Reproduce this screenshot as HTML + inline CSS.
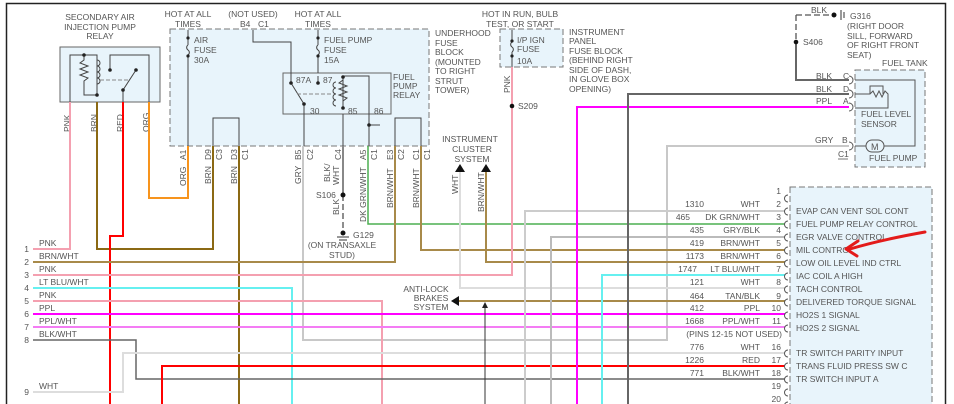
<!DOCTYPE html>
<html><head><meta charset="utf-8"><style>
html,body{margin:0;padding:0;background:#fff;}
svg{display:block;font-family:"Liberation Sans",sans-serif;}
text{font-size:8.5px;fill:#555;}
</style></head><body>
<svg width="954" height="404" viewBox="0 0 954 404" xmlns="http://www.w3.org/2000/svg">
<rect x="0" y="0" width="954" height="404" fill="#fff"/>
<!-- frame -->
<path d="M6.5 404 V3.5 H945.5 V404" fill="none" stroke="#222" stroke-width="1.5"/>

<!-- boxes -->
<rect x="60" y="47" width="100" height="55" fill="#e8f4fb" stroke="#666" stroke-width="1"/>
<rect x="170" y="29" width="259" height="117" fill="#e8f4fb" stroke="#777" stroke-width="1" stroke-dasharray="6,3"/>
<rect x="283" y="73" width="108" height="41" fill="#e8f4fb" stroke="#666" stroke-width="1"/>
<rect x="500" y="29" width="63" height="38" fill="#e8f4fb" stroke="#777" stroke-width="1" stroke-dasharray="6,3"/>
<rect x="855" y="70" width="70" height="97" fill="#e8f4fb" stroke="#777" stroke-width="1" stroke-dasharray="6,3"/>
<rect x="790" y="187" width="142" height="230" fill="#e8f4fb" stroke="#777" stroke-width="1" stroke-dasharray="6,3"/>

<!-- top texts -->
<g text-anchor="middle">
<text x="100" y="20">SECONDARY AIR</text>
<text x="100" y="30">INJECTION PUMP</text>
<text x="100" y="39">RELAY</text>
<text x="188" y="17">HOT AT ALL</text>
<text x="188" y="27">TIMES</text>
<text x="253" y="17">(NOT USED)</text>
<text x="318" y="17">HOT AT ALL</text>
<text x="318" y="27">TIMES</text>
<text x="520" y="17">HOT IN RUN, BULB</text>
<text x="520" y="27">TEST, OR START</text>
<text x="470" y="142">INSTRUMENT</text>
<text x="472" y="152">CLUSTER</text>
<text x="472" y="162">SYSTEM</text>
<text x="426" y="292">ANTI-LOCK</text>
<text x="431" y="301">BRAKES</text>
<text x="431" y="310">SYSTEM</text>
<text x="342" y="248">(ON TRANSAXLE</text>
<text x="342" y="258">STUD)</text>
</g>
<text x="240" y="27">B4</text><text x="258" y="27">C1</text>
<text x="194" y="43">AIR</text><text x="194" y="53">FUSE</text><text x="194" y="63">30A</text>
<text x="324" y="43">FUEL PUMP</text><text x="324" y="53">FUSE</text><text x="324" y="63">15A</text>
<text x="393" y="80">FUEL</text><text x="393" y="89">PUMP</text><text x="393" y="98">RELAY</text>
<text x="435" y="36">UNDERHOOD</text><text x="435" y="46">FUSE</text><text x="435" y="55">BLOCK</text>
<text x="435" y="65">(MOUNTED</text><text x="435" y="74">TO RIGHT</text><text x="435" y="84">STRUT</text><text x="435" y="93">TOWER)</text>
<text x="296" y="83">87A</text><text x="323" y="83">87</text>
<text x="310" y="114">30</text><text x="348" y="114">85</text><text x="374" y="114">86</text>
<text x="517" y="43">I/P IGN</text><text x="517" y="52">FUSE</text><text x="517" y="64">10A</text>
<text x="569" y="35">INSTRUMENT</text><text x="569" y="44">PANEL</text><text x="569" y="54">FUSE BLOCK</text>
<text x="569" y="63">(BEHIND RIGHT</text><text x="569" y="73">SIDE OF DASH,</text><text x="569" y="82">IN GLOVE BOX</text><text x="569" y="92">OPENING)</text>
<text x="518" y="109">S209</text>
<text x="811" y="13">BLK</text>
<text x="850" y="19">G316</text><text x="847" y="29">(RIGHT DOOR</text><text x="847" y="39">SILL, FORWARD</text><text x="847" y="48">OF RIGHT FRONT</text><text x="847" y="58">SEAT)</text>
<text x="803" y="45">S406</text>
<text x="882" y="66">FUEL TANK</text>
<text x="816" y="79">BLK</text><text x="843" y="79">C</text>
<text x="816" y="92">BLK</text><text x="843" y="92">D</text>
<text x="816" y="104">PPL</text><text x="843" y="104">A</text>
<text x="815" y="143">GRY</text><text x="842" y="143">B</text>
<text x="838" y="157">C1</text><line x1="838" y1="159" x2="848" y2="159" stroke="#555" stroke-width="0.8"/>
<text x="861" y="117">FUEL LEVEL</text><text x="861" y="127">SENSOR</text>
<text x="869" y="161">FUEL PUMP</text>
<text x="316" y="198">S106</text>
<text x="353" y="238">G129</text>

<!-- rotated labels -->
<g>
<text transform="translate(70,132) rotate(-90)">PNK</text>
<text transform="translate(97,132) rotate(-90)">BRN</text>
<text transform="translate(123,132) rotate(-90)">RED</text>
<text transform="translate(149,132) rotate(-90)">ORG</text>
<text transform="translate(186,160) rotate(-90)">A1</text>
<text transform="translate(186,186) rotate(-90)">ORG</text>
<text transform="translate(211,160) rotate(-90)">D9</text>
<text transform="translate(222,160) rotate(-90)">C3</text>
<text transform="translate(211,184) rotate(-90)">BRN</text>
<text transform="translate(237,160) rotate(-90)">D3</text>
<text transform="translate(248,160) rotate(-90)">C1</text>
<text transform="translate(237,184) rotate(-90)">BRN</text>
<text transform="translate(301,160) rotate(-90)">B5</text>
<text transform="translate(313,160) rotate(-90)">C2</text>
<text transform="translate(301,184) rotate(-90)">GRY</text>
<text transform="translate(341,160) rotate(-90)">C4</text>
<text transform="translate(330,182) rotate(-90)">BLK/</text>
<text transform="translate(339,185) rotate(-90)">WHT</text>
<text transform="translate(339,215) rotate(-90)">BLK</text>
<text transform="translate(366,160) rotate(-90)">A5</text>
<text transform="translate(377,160) rotate(-90)">C1</text>
<text transform="translate(366,222) rotate(-90)">DK GRN/WHT</text>
<text transform="translate(393,160) rotate(-90)">E3</text>
<text transform="translate(404,160) rotate(-90)">C2</text>
<text transform="translate(393,208) rotate(-90)">BRN/WHT</text>
<text transform="translate(419,160) rotate(-90)">C1</text>
<text transform="translate(430,160) rotate(-90)">C1</text>
<text transform="translate(419,208) rotate(-90)">BRN/WHT</text>
<text transform="translate(458,194) rotate(-90)">WHT</text>
<text transform="translate(484,212) rotate(-90)">BRN/WHT</text>
<text transform="translate(510,93) rotate(-90)">PNK</text>
</g>

<!-- secondary air relay internals -->
<g stroke="#444" stroke-width="1" fill="none">
<path d="M70 102 V55 H97 V95"/>
<path d="M84 55 V60 l-4 3 l8 3 l-8 3 l8 3 l-8 3 l8 3 l-4 3 V95 H97"/>
<path d="M97 60 a3 3 0 0 1 0 6 a3 3 0 0 1 0 6 a3 3 0 0 1 0 6 a3 3 0 0 1 0 6"/>
<path d="M110 70 V55 H149 V102"/>
<path d="M123 102 V90 L136 70"/>
<path d="M100 80 H130" stroke-dasharray="4,2" stroke="#888"/>
</g>
<g fill="#222"><circle cx="84" cy="55" r="1.8"/><circle cx="97" cy="95" r="1.8"/><circle cx="110" cy="70" r="1.8"/><circle cx="136" cy="70" r="1.8"/><circle cx="123" cy="90" r="1.8"/></g>

<!-- fuel pump relay internals -->
<g stroke="#444" stroke-width="1" fill="none">
<path d="M253 30 V42 H291 V73"/>
<path d="M188 30 V45 M188 55 V146"/>
<path d="M188 45 a3 3 0 0 0 0 5 a3 3 0 0 1 0 5"/>
<path d="M318 30 V45 M318 55 V73"/>
<path d="M318 45 a3 3 0 0 0 0 5 a3 3 0 0 1 0 5"/>
<path d="M291 73 V83 L304 104 V146"/>
<path d="M318 76 V83"/>
<path d="M343 76 V108 M343 146 V114"/>
<path d="M343 76 H369 V146"/>
<path d="M343 80 l-4 3 l8 3 l-8 3 l8 3 l-8 3 l8 3 l-4 3"/>
<path d="M336 82 a3 3 0 0 0 0 6 a3 3 0 0 0 0 6 a3 3 0 0 0 0 6 a3 3 0 0 0 0 6"/>
<path d="M297 94 H333" stroke-dasharray="4,2" stroke="#888"/>
<path d="M369 125 H380"/>
<path d="M213 146 V118 H239 V146"/>
<path d="M395 146 V118 H421 V146"/>
<path d="M512 30 V42 M512 52 V67"/>
<path d="M512 42 a3 3 0 0 0 0 5 a3 3 0 0 1 0 5"/>
</g>
<g fill="#222"><circle cx="291" cy="83" r="1.8"/><circle cx="318" cy="83" r="1.8"/><circle cx="304" cy="104" r="1.8"/><circle cx="343" cy="77" r="1.8"/><circle cx="343" cy="108" r="1.8"/><circle cx="369" cy="125" r="1.8"/><circle cx="188" cy="38" r="1.6"/><circle cx="188" cy="56" r="1.6"/><circle cx="318" cy="38" r="1.6"/><circle cx="318" cy="56" r="1.6"/><circle cx="512" cy="41" r="1.6"/><circle cx="512" cy="56" r="1.6"/></g>

<!-- wires -->
<g fill="none" stroke-width="2">
<path d="M70 102 V249 H33" stroke="#f4a0b0"/>
<path d="M97 102 V249 H213 V146" stroke="#8b6914"/>
<path d="M123 102 V236 H110 V404" stroke="#f00"/>
<path d="M149 102 V198 H188 V146" stroke="#f7941d"/>
<path d="M239 146 V404" stroke="#8b6914"/>
<path d="M303 146 V340 H667 V146 H849" stroke="#c8c8c8"/>
<path d="M343 146 V195" stroke="#888"/>
<path d="M343 195 V232" stroke="#444" stroke-width="1.2" stroke-dasharray="6,3"/>
<path d="M368 146 V224 H785" stroke="#4caf50" stroke-width="1.5"/>
<path d="M421 146 V250 H785" stroke="#a88a4a"/>
<path d="M395 146 V262 H33" stroke="#a88a4a"/>
<path d="M486 170 V262 H785" stroke="#a88a4a"/>
<path d="M460 170 V288 H785" stroke="#ddd"/>
<path d="M33 275 H512 V67" stroke="#f4a0b0"/>
<path d="M33 288 H292 V404" stroke="#66f0f0"/>
<path d="M33 301 H382 V404" stroke="#f4a0b0"/>
<path d="M457 301 H785" stroke="#a88a4a"/>
<path d="M33 314 H785" stroke="#f0f"/>
<path d="M33 327 H785" stroke="#f47cf4"/>
<path d="M33 340 H136 V379 H785" stroke="#666" stroke-width="1.5"/>
<path d="M33 392 H123 V353 H785" stroke="#ddd"/>
<path d="M162 404 V366 H785" stroke="#f00"/>
<path d="M525 404 V211 H785" stroke="#ccc"/>
<path d="M551 404 V237 H785" stroke="#bbb"/>
<path d="M602 404 V275 H785" stroke="#66f0f0"/>
<path d="M577 404 V107 H849" stroke="#f0f"/>
<path d="M628 404 V94 H849" stroke="#666"/>
<path d="M796 42 V80 H849" stroke="#666"/>
<path d="M796 15 V42 M796 15 H832" stroke="#555" stroke-width="1.3" stroke-dasharray="6,3"/>
<path d="M485 404 V306" stroke="#333" stroke-width="1"/>
</g>
<polygon points="485,302 482,308 488,308" fill="#222"/>
<polygon points="460,164 455,172 465,172" fill="#111"/>
<polygon points="486,164 481,172 491,172" fill="#111"/>
<polygon points="451,301 459,296 459,306" fill="#111"/>
<g fill="#111"><circle cx="343" cy="195" r="2.5"/><circle cx="512" cy="106" r="2.3"/><circle cx="796" cy="42" r="2.3"/><circle cx="834" cy="15" r="2.5"/><circle cx="343" cy="233" r="2.5"/></g>
<path d="M337 237 H349 M339 240 H347 M841 10 V20 M844 12 V18" stroke="#333" stroke-width="1"/>

<!-- fuel tank internals -->
<g stroke="#555" stroke-width="1" fill="none">
<path d="M855 80 H915 V146 H884"/>
<path d="M855 94 H870 l3 -3 l3 6 l3 -6 l3 6 l3 -6 l3 3 V108 H855 M870 94 V86 H883 V94"/>
<path d="M855 146 H866"/>
<rect x="866" y="140" width="18" height="12" rx="6"/>
</g>
<text x="871" y="150" style="font-size:9px">M</text>
<g stroke="#555" stroke-width="1" fill="none">
<path d="M849 76 a3 3 0 0 1 0 8 M849 90 a3 3 0 0 1 0 8 M849 103 a3 3 0 0 1 0 8 M849 142 a3 3 0 0 1 0 8"/>
</g>

<!-- left numbers -->
<g text-anchor="end" style="font-size:8.5px">
<text x="29" y="252">1</text><text x="29" y="265">2</text><text x="29" y="278">3</text><text x="29" y="291">4</text>
<text x="29" y="304">5</text><text x="29" y="317">6</text><text x="29" y="330">7</text><text x="29" y="343">8</text><text x="29" y="395">9</text>
</g>
<text x="39" y="246">PNK</text><text x="39" y="259">BRN/WHT</text><text x="39" y="272">PNK</text><text x="39" y="285">LT BLU/WHT</text>
<text x="39" y="298">PNK</text><text x="39" y="311">PPL</text><text x="39" y="324">PPL/WHT</text><text x="39" y="337">BLK/WHT</text><text x="39" y="389">WHT</text>

<!-- PCM pin labels -->
<g text-anchor="end">
<text x="781" y="194">1</text>
<text x="704" y="207">1310</text><text x="760" y="207">WHT</text><text x="781" y="207">2</text>
<text x="690" y="220">465</text><text x="760" y="220">DK GRN/WHT</text><text x="781" y="220">3</text>
<text x="704" y="233">435</text><text x="760" y="233">GRY/BLK</text><text x="781" y="233">4</text>
<text x="704" y="246">419</text><text x="760" y="246">BRN/WHT</text><text x="781" y="246">5</text>
<text x="704" y="259">1173</text><text x="760" y="259">BRN/WHT</text><text x="781" y="259">6</text>
<text x="697" y="272">1747</text><text x="760" y="272">LT BLU/WHT</text><text x="781" y="272">7</text>
<text x="704" y="285">121</text><text x="760" y="285">WHT</text><text x="781" y="285">8</text>
<text x="704" y="299">464</text><text x="760" y="299">TAN/BLK</text><text x="781" y="299">9</text>
<text x="704" y="311">412</text><text x="760" y="311">PPL</text><text x="781" y="311">10</text>
<text x="704" y="324">1668</text><text x="760" y="324">PPL/WHT</text><text x="781" y="324">11</text>
<text x="782" y="337">(PINS 12-15 NOT USED)</text>
<text x="704" y="350">776</text><text x="760" y="350">WHT</text><text x="781" y="350">16</text>
<text x="704" y="363">1226</text><text x="760" y="363">RED</text><text x="781" y="363">17</text>
<text x="704" y="376">771</text><text x="760" y="376">BLK/WHT</text><text x="781" y="376">18</text>
<text x="781" y="389">19</text><text x="781" y="402">20</text>
</g>
<g stroke="#555" stroke-width="1" fill="none">
<path d="M788 195 a3 3 0 0 0 0 7 M788 208 a3 3 0 0 0 0 7 M788 221 a3 3 0 0 0 0 7 M788 234 a3 3 0 0 0 0 7 M788 247 a3 3 0 0 0 0 7 M788 260 a3 3 0 0 0 0 7 M788 273 a3 3 0 0 0 0 7 M788 286 a3 3 0 0 0 0 7 M788 299 a3 3 0 0 0 0 7 M788 312 a3 3 0 0 0 0 7 M788 325 a3 3 0 0 0 0 7 M788 350 a3 3 0 0 0 0 7 M788 363 a3 3 0 0 0 0 7 M788 376 a3 3 0 0 0 0 7 M788 389 a3 3 0 0 0 0 7 M788 402 a3 3 0 0 0 0 7"/>
</g>
<g>
<text x="796" y="214">EVAP CAN VENT SOL CONT</text>
<text x="796" y="227">FUEL PUMP RELAY CONTROL</text>
<text x="796" y="240">EGR VALVE CONTROL</text>
<text x="796" y="253">MIL CONTROL</text>
<text x="796" y="266">LOW OIL LEVEL IND CTRL</text>
<text x="796" y="279">IAC COIL A HIGH</text>
<text x="796" y="292">TACH CONTROL</text>
<text x="796" y="305">DELIVERED TORQUE SIGNAL</text>
<text x="796" y="318">HO2S 1 SIGNAL</text>
<text x="796" y="331">HO2S 2 SIGNAL</text>
<text x="796" y="356">TR SWITCH PARITY INPUT</text>
<text x="796" y="369">TRANS FLUID PRESS SW C</text>
<text x="796" y="382">TR SWITCH INPUT A</text>
</g>

<!-- red annotation arrow -->
<path d="M925 232 Q880 240 850 249" fill="none" stroke="#e31b1b" stroke-width="3" stroke-linecap="round"/>
<path d="M858 241 L846 249 L857 256" fill="none" stroke="#e31b1b" stroke-width="3" stroke-linecap="round" stroke-linejoin="round"/>
</svg>
</body></html>
